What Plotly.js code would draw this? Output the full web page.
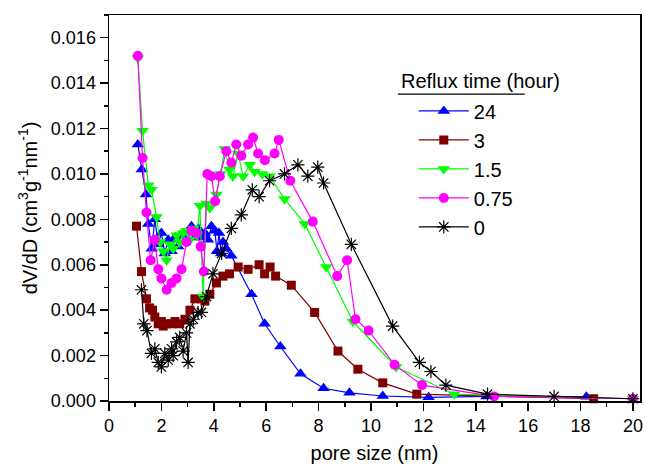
<!DOCTYPE html>
<html>
<head>
<meta charset="utf-8">
<script src="https://cdn.plot.ly/plotly-3.0.1.min.js"></script>
<style>html,body{margin:0;padding:0;background:#fff;}#chart{width:646px;height:465px;}</style>
</head>
<body>
<div id="chart"></div>
<script>
// Series names (reflux time, hours)
const seriesNames = ["24", "3", "1.5", "0.75", "0"];
const legendTitle = "Reflux time (hour)";

// 24 h
const x24 = [1.10,1.25,1.41,1.50,1.63,1.75,1.88,2.0,2.13,2.26,2.39,2.52,2.64,2.77,2.9,3.03,3.15,3.28,3.41,3.53,3.66,3.78,3.91,4.04,4.12,4.2,4.28,4.35,4.48,4.67,5.44,5.94,6.54,7.31,8.19,9.18,10.45,12.2,14.41,18.22];
const y24 = [0.0113,0.0102,0.0091,0.0078,0.0067,0.0080,0.0069,0.0074,0.0065,0.0071,0.0066,0.0072,0.0068,0.0073,0.0070,0.0075,0.0077,0.0072,0.0076,0.0072,0.0074,0.0071,0.0077,0.0075,0.0066,0.0074,0.0065,0.0070,0.0067,0.0064,0.0047,0.0034,0.0024,0.0012,0.00056,0.00036,0.00022,0.00016,0.0002,0.00019];

// 3 h
const x3 = [1.05,1.24,1.43,1.55,1.66,1.75,1.88,2.0,2.07,2.2,2.39,2.52,2.7,2.9,3.09,3.28,3.53,3.66,3.85,4.1,4.35,4.6,4.93,5.31,5.73,5.94,6.15,6.36,6.96,7.85,8.74,9.5,10.45,11.75,18.5];
const y3 = [0.0077,0.0057,0.0045,0.0041,0.0040,0.0037,0.0034,0.0035,0.0033,0.0034,0.0034,0.0035,0.0034,0.0036,0.0040,0.0045,0.0045,0.0044,0.0047,0.0052,0.0055,0.0056,0.0059,0.0058,0.0060,0.0056,0.0059,0.0055,0.0051,0.0039,0.0022,0.0014,0.0008,0.0003,0.0001];

// 1.5 h
const x15 = [1.10,1.28,1.50,1.62,1.82,1.94,2.07,2.2,2.32,2.45,2.58,2.70,2.83,2.96,3.09,3.22,3.35,3.47,3.59,3.72,3.85,4.1,4.25,4.42,4.6,4.73,4.93,5.12,5.37,5.56,5.85,6.13,6.7,7.47,8.29,9.31,10.96,13.18,20.0];
const y15 = [0.0151,0.0119,0.0095,0.0093,0.0081,0.0070,0.0066,0.0062,0.0069,0.0067,0.0073,0.0070,0.0074,0.0075,0.0071,0.0076,0.0073,0.0086,0.0046,0.0087,0.0085,0.0091,0.0100,0.0111,0.0102,0.0099,0.0109,0.0099,0.0104,0.0101,0.0100,0.0099,0.0089,0.0078,0.0059,0.0035,0.0015,0.0003,0.0001];

// 0.75 h
const x075 = [1.10,1.28,1.43,1.59,1.75,1.88,2.0,2.2,2.39,2.58,2.77,2.96,3.15,3.34,3.5,3.62,3.75,3.91,4.05,4.23,4.48,4.67,4.86,5.05,5.31,5.5,5.69,5.95,6.32,6.48,6.92,7.78,8.71,9.09,9.41,9.91,10.9,11.95,14.7,20.0];
const y075 = [0.0152,0.0107,0.0083,0.0062,0.0071,0.0058,0.0054,0.0049,0.0052,0.0054,0.0058,0.0070,0.0075,0.0074,0.0068,0.0057,0.0100,0.0099,0.0088,0.0099,0.0110,0.0105,0.0113,0.0108,0.0113,0.0116,0.0109,0.0106,0.0109,0.0115,0.0097,0.0079,0.0055,0.0062,0.0036,0.0031,0.0016,0.0007,0.0002,0.0001];

// 0 h
const x0 = [1.24,1.33,1.45,1.62,1.75,1.88,2.0,2.13,2.26,2.39,2.45,2.58,2.7,2.83,2.96,3.02,3.09,3.22,3.4,3.53,3.72,3.97,4.3,4.67,5.05,5.47,5.73,6.13,6.7,7.21,7.59,7.97,8.19,9.25,10.83,11.85,12.29,12.86,14.45,16.99,20.0];
const y0 = [0.0049,0.0034,0.0031,0.0021,0.0023,0.0017,0.0015,0.0021,0.0018,0.0023,0.0020,0.0026,0.0028,0.0022,0.0030,0.0017,0.0034,0.0036,0.0039,0.0039,0.0046,0.0056,0.0065,0.0076,0.0082,0.0093,0.0090,0.0097,0.0100,0.0104,0.0099,0.0103,0.0096,0.0069,0.0033,0.0017,0.0013,0.0007,0.0003,0.0002,0.0001];

const xTickVals = [0,2,4,6,8,10,12,14,16,18,20];
const yTickVals = [0,0.002,0.004,0.006,0.008,0.010,0.012,0.014,0.016];

const FONT = "Liberation Sans, Arial, Helvetica, sans-serif";

function mk(name, xs, ys, color, symbol, size, lineOnly) {
  const marker = {symbol: symbol, size: size, color: color};
  if (lineOnly) marker.line = {color: color, width: 1.2};
  else marker.line = {width: 0};
  return {
    type: "scatter", mode: "lines+markers", name: name,
    x: xs, y: ys, legendgroup: name,
    line: {color: color, width: 1.2},
    marker: marker, cliponaxis: false
  };
}

const traces = [
  mk(seriesNames[0], x24, y24, "#0000ff", "triangle-up", 11),
  mk(seriesNames[1], x3, y3, "#800000", "square", 9),
  mk(seriesNames[2], x15, y15, "#00ff00", "triangle-down", 11),
  mk(seriesNames[3], x075, y075, "#ff00ff", "circle", 10),
  mk(seriesNames[4], x0, y0, "#000000", "asterisk-open", 11, true)
];

const axisCommon = {
  showline: true, linecolor: "#000", linewidth: 1.5, mirror: true,
  ticks: "outside", ticklen: 8, tickwidth: 1.5, tickcolor: "#000",
  showgrid: false, zeroline: false,
  tickfont: {family: FONT, size: 18, color: "#000"}
};

const layout = {
  width: 646, height: 465,
  margin: {l: 109, r: 6, t: 15, b: 64},
  paper_bgcolor: "#fff", plot_bgcolor: "#fff",
  font: {family: FONT, color: "#000"},
  showlegend: true,
  legend: {
    x: 0.574, xanchor: "left", y: 0.802, yanchor: "top",
    bgcolor: "rgba(0,0,0,0)", borderwidth: 0,
    font: {family: FONT, size: 20, color: "#000"},
    traceorder: "normal", tracegroupgap: 8, itemwidth: 50
  },
  xaxis: Object.assign({}, axisCommon, {
    range: [0, 20.27], tickvals: xTickVals, ticktext: xTickVals.map(String),
    minor: {dtick: 1, tick0: 0, ticklen: 4, tickwidth: 1.5, tickcolor: "#000", ticks: "outside"},
    title: {text: "pore size (nm)", font: {family: FONT, size: 20, color: "#000"}, standoff: 11}
  }),
  yaxis: Object.assign({}, axisCommon, {
    range: [0, 0.017], tickvals: yTickVals, ticktext: yTickVals.map(v => v.toFixed(3)),
    minor: {dtick: 0.001, tick0: 0, ticklen: 4, tickwidth: 1.5, tickcolor: "#000", ticks: "outside"},
    title: {text: "dV/dD (cm<sup>3</sup>g<sup>-1</sup>nm<sup>-1</sup>)", font: {family: FONT, size: 20, color: "#000"}, standoff: 8}
  }),
  annotations: [
    {xref: "paper", yref: "paper", x: 0.546, y: 0.828, xanchor: "left", yanchor: "middle",
     text: legendTitle, showarrow: false, font: {family: FONT, size: 20, color: "#000"}}
  ],
  shapes: [
    {type: "line", xref: "paper", yref: "paper", x0: 0.544, x1: 0.783, y0: 0.795, y1: 0.795,
     line: {color: "#000", width: 1.2}}
  ]
};

Plotly.newPlot("chart", traces, layout, {displayModeBar: false, staticPlot: true});
</script>
</body>
</html>
